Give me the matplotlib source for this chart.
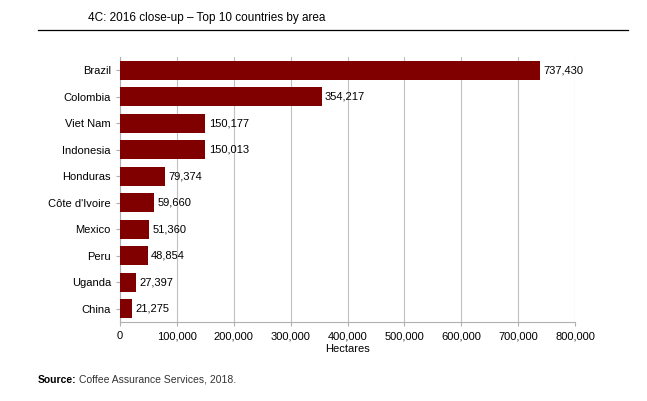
import matplotlib.pyplot as plt
from matplotlib.lines import Line2D

plt.rcParams['font.family'] = ['Liberation Sans', 'DejaVu Sans']

countries = ['Brazil', 'Colombia', 'Viet Nam', 'Indonesia', 'Honduras',
             "Côte d'Ivoire", 'Mexico', 'Peru', 'Uganda', 'China']
hectares = [737430, 354217, 150177, 150013, 79374,
            59660, 51360, 48854, 27397, 21275]
xticks = [0, 100000, 200000, 300000, 400000, 500000, 600000, 700000, 800000]

fig = plt.figure(figsize=(6.47, 4.01), dpi=100)
ax = fig.add_axes([0.1855, 0.197, 0.7035, 0.661])

ypos = list(range(len(countries)))[::-1]
ax.barh(ypos, hectares, height=0.72, color='#800000', zorder=3)

for y, v in zip(ypos, hectares):
    ax.text(v + 6000, y, f'{v:,}', va='center', ha='left', fontsize=8, zorder=4)

ax.set_ylim(-0.5, len(countries) - 0.5)
ax.set_xlim(0, 800000)
ax.set_yticks(ypos)
ax.set_yticklabels(countries, fontsize=8)
ax.set_xticks(xticks)
ax.set_xticklabels([f'{t:,}' for t in xticks], fontsize=8)
ax.set_xlabel('Hectares', fontsize=8, labelpad=2)

ax.grid(axis='x', color='#c0c0c0', linewidth=0.8, zorder=0)
for s in ['top', 'right']:
    ax.spines[s].set_visible(False)
for s in ['left', 'bottom']:
    ax.spines[s].set_color('#b0b0b0')
ax.tick_params(axis='both', colors='#b0b0b0', labelcolor='black', length=3)

# title and rule
fig.text(88 / 647, 1 - 18 / 401, '4C: 2016 close-up \u2013 Top 10 countries by area',
         fontsize=8.5, va='center', ha='left')
fig.add_artist(Line2D([38 / 647, 628 / 647], [1 - 30 / 401, 1 - 30 / 401],
                      color='black', linewidth=0.9, transform=fig.transFigure))

# source note
fig.text(38 / 647, 1 - 380 / 401, 'Source:', fontsize=7.5, fontweight='bold',
         va='center', ha='left')
fig.text(79 / 647, 1 - 380 / 401, 'Coffee Assurance Services, 2018.', fontsize=7.5,
         va='center', ha='left', color='#333333')

fig.savefig('out.png', dpi=100)
